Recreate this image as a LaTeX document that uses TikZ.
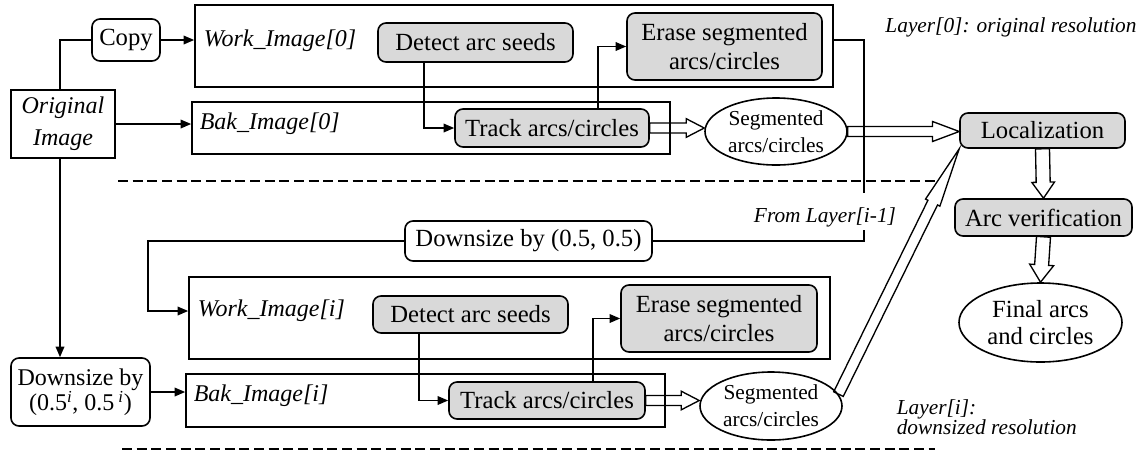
\documentclass[tikz,border=0pt]{standalone}
\usepackage{fontspec}
\setmainfont{Liberation Serif}
\usetikzlibrary{arrows.meta,calc,shapes.geometric}
\definecolor{boxgray}{RGB}{217,217,217}
\newcommand{\fatarrow}[5]{%
  \coordinate (fac) at ($(#2)!#5!(#1)$);
  \draw[fatline] ($(#1)!#3!90:(#2)$) -- ($(fac)!#3!90:(#2)$) -- ($(fac)!#4!90:(#2)$) -- (#2) -- ($(fac)!#4!-90:(#2)$) -- ($(fac)!#3!-90:(#2)$) -- ($(#1)!#3!-90:(#2)$) -- cycle;}
\begin{document}
\begin{tikzpicture}[x=0.75pt,y=-0.75pt, line width=1.2pt,
  base/.style={draw, inner sep=0pt, align=center, font=\fontsize{18.5}{21.5}\selectfont},
  frame/.style={draw, inner sep=0pt},
  sz/.style 2 args={minimum width=#1*0.75pt, minimum height=#2*0.75pt},
  proc/.style={base, rounded corners=6pt, fill=boxgray},
  wbox/.style={base, rounded corners=6pt},
  ell/.style={base, ellipse, font=\fontsize{16}{20}\selectfont},
  lbl/.style={inner sep=0pt, font=\fontsize{18}{21}\selectfont\itshape},
  note/.style={inner sep=0pt, font=\fontsize{16}{15}\selectfont\itshape, align=left},
  arr/.style={-{Triangle[length=8pt,width=6.5pt]}},
  fatline/.style={draw, line width=1pt, line join=miter},
  dash line/.style={dash pattern=on 7.5pt off 3.5pt}]
\useasboundingbox (0,0) rectangle (1143,455);

% frames
\node[frame, sz={638}{82}] (w0) at (514,46) {};
\node[frame, sz={478}{52}] (b0) at (431,128) {};
\node[frame, sz={641}{82}] (wi) at (509.5,318) {};
\node[frame, sz={479}{53}] (bi) at (425.5,400.5) {};
\node[lbl, anchor=west] (w0l) at (203,41) {Work\_Image[0]};
\node[lbl, anchor=west] (b0l) at (199,124) {Bak\_Image[0]};
\node[lbl, anchor=west] (wil) at (197,311) {Work\_Image[i]};
\node[lbl, anchor=west] (bil) at (193,396) {Bak\_Image[i]};

% nodes
\node[base, sz={104}{68}, font=\fontsize{18}{24}\selectfont\itshape] (orig) at (63,124) {Original\\Image};
\node[wbox, sz={68}{42}] (copy) at (126,40) {Copy};
\node[proc, sz={195}{39}] (det0) at (475.5,42.5) {Detect arc seeds};
\node[proc, sz={195}{67}] (era0) at (724.5,46.5) {Erase segmented\\arcs/circles};
\node[proc, sz={194}{38}] (trk0) at (552,128) {Track arcs/circles};
\node[ell, sz={142}{67}] (seg0) at (776,131.5) {Segmented\\arcs/circles};
\node[proc, sz={165}{35}] (loc) at (1042.5,130.5) {Localization};
\node[proc, sz={177}{37}] (ver) at (1043.5,217.5) {Arc verification};
\node[ell, sz={163}{79}, font=\fontsize{18.5}{20}\selectfont] (fin) at (1040.5,322.5) {Final arcs\\and circles};
\node[wbox, sz={247}{40}] (ds05) at (528.5,241) {Downsize by (0.5, 0.5)};
\node[proc, sz={195}{37}] (deti) at (470.5,314.5) {Detect arc seeds};
\node[proc, sz={196}{67}] (erai) at (719,318.5) {Erase segmented\\arcs/circles};
\node[proc, sz={196}{37}] (trki) at (547,400.5) {Track arcs/circles};
\node[ell, sz={142}{68}] (segi) at (771,406) {Segmented\\arcs/circles};
\node[wbox, sz={139}{68}, font=\fontsize{18}{19}\selectfont] (dsi) at (80.5,392) {Downsize by\\(0.5\textsuperscript{\itshape i}, 0.5\,\textsuperscript{\itshape i})};

% notes
\node[note] (L0) at (1011,27) {Layer[0]: original resolution};
\node[note] (from) at (825,217) {From Layer[i-1]};
\node[note, anchor=west] (Li) at (896,417) {Layer[i]:\\downsized resolution};

% connectors
\coordinate (vx) at (60,0);
\draw (orig.north -| vx) |- (copy.west);
\draw[arr] (copy.east) -- (copy.east -| w0.west);
\draw[arr] (orig.east) -- (orig.east -| b0.west);
\draw[arr] (orig.south -| vx) -- (dsi.north -| vx);
\draw[arr] (dsi.east) -- (dsi.east -| bi.west);
\coordinate (dx0) at (424,0);
\draw[arr] (det0.south -| dx0) |- (trk0.west);
\coordinate (tx0) at (598,0);
\draw[arr] (trk0.north -| tx0) |- (era0.west);
\coordinate (dxi) at (419,0);
\draw[arr] (deti.south -| dxi) |- (trki.west);
\coordinate (txi) at (593,0);
\draw[arr] (trki.north -| txi) |- (erai.west);
\coordinate (fl1) at (864,193);
\draw (w0.east |- copy.east) -| (fl1);
\coordinate (fl2) at (864,230);
\draw (fl2) |- (ds05.east);
\coordinate (lx) at (148,0);
\draw[arr] (ds05.west) -| (lx |- wil) -- (wi.west |- wil);

% fat arrows
\coordinate (a1) at (trk0.east -| seg0.west);
\fatarrow{trk0.east}{a1}{3.75pt}{7pt}{13.5pt}
\coordinate (a2) at (seg0.east -| loc.west);
\fatarrow{seg0.east}{a2}{3.75pt}{7.5pt}{20pt}
\coordinate (a3) at (trki.east -| segi.west);
\fatarrow{trki.east}{a3}{3.75pt}{7pt}{13.5pt}
\fatarrow{segi.10}{loc.south west}{4pt}{6pt}{45pt}
\fatarrow{loc.south}{ver.north}{5.25pt}{8.5pt}{12pt}
\fatarrow{ver.south}{fin.north}{5.25pt}{9pt}{13pt}

% dashed separators
\coordinate (d1a) at (118,181);
\coordinate (d1b) at (935,181);
\draw[dash line] (d1a) -- (d1b);
\coordinate (d2a) at (122,449);
\coordinate (d2b) at (935,449);
\draw[dash line] (d2a) -- (d2b);
\end{tikzpicture}
\end{document}
